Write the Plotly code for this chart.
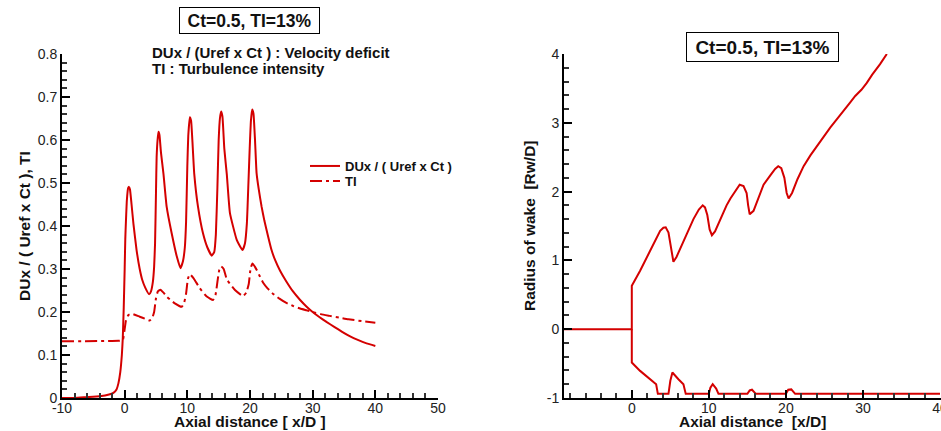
import plotly.graph_objects as go

# ---------------- data ----------------
# Left panel: velocity deficit DUx/(Uref x Ct) and turbulence intensity TI vs x/D
dux_x = [-10, -8, -6, -4, -2.5, -1.8, -1.3, -1.0, -0.7, -0.45, -0.3, -0.15, 0.0, 0.1, 0.2, 0.35, 0.55, 0.7, 0.85,
         1.1, 1.4, 1.9, 2.4, 2.8, 3.3, 3.9, 4.2, 4.5, 4.7, 4.85, 5.0, 5.1, 5.25, 5.4, 5.55, 5.8, 6.2, 6.7, 7.5,
         8.3, 8.9, 9.3, 9.6, 9.8, 10.0, 10.15, 10.4, 10.6, 10.8, 11.1, 11.7, 12.5, 13.2, 13.9, 14.3, 14.55,
         14.8, 15.0, 15.2, 15.4, 15.6, 15.9, 16.3, 16.8, 17.9, 18.8, 19.2, 19.5, 19.75, 19.95, 20.15, 20.35,
         20.55, 20.8, 21.05, 21.4, 21.85, 22.3, 22.9, 23.4, 24.0, 24.8, 25.8, 26.8, 28.0, 29.0, 30.0, 31.0,
         32.2, 33.5, 34.7, 35.9, 37.2, 38.6, 40.0]
dux_y = [0.000, 0.000, 0.002, 0.004, 0.008, 0.012, 0.020, 0.034, 0.060, 0.100, 0.140, 0.210, 0.300, 0.370,
         0.410, 0.460, 0.488, 0.491, 0.485, 0.450, 0.405, 0.344, 0.300, 0.275, 0.256, 0.241, 0.248, 0.270,
         0.305, 0.360, 0.480, 0.560, 0.600, 0.619, 0.612, 0.570, 0.520, 0.445, 0.383, 0.330, 0.302, 0.318,
         0.350, 0.410, 0.540, 0.610, 0.653, 0.645, 0.600, 0.522, 0.445, 0.383, 0.350, 0.331, 0.340, 0.380,
         0.490, 0.600, 0.650, 0.666, 0.655, 0.580, 0.520, 0.430, 0.367, 0.344, 0.360, 0.406, 0.500, 0.580,
         0.645, 0.671, 0.662, 0.600, 0.523, 0.485, 0.445, 0.412, 0.375, 0.346, 0.321, 0.296, 0.271, 0.249,
         0.228, 0.213, 0.200, 0.189, 0.177, 0.165, 0.154, 0.144, 0.135, 0.127, 0.121]

ti_x = [-10, -1.0, -0.3, 0.0, 0.2, 0.6, 1.1, 2.4, 3.3, 4.0, 4.4, 4.7, 5.0, 5.3, 5.7, 6.2, 6.7, 8.0, 9.1, 9.5,
        9.8, 10.1, 10.4, 10.8, 11.2, 12.0, 13.1, 14.1, 14.5, 14.8, 15.1, 15.4, 15.8, 16.3, 17.6, 18.9, 19.4,
        19.8, 20.1, 20.4, 20.8, 21.1, 21.6, 22.1, 22.8, 23.7, 24.7, 25.8, 26.9, 28.0, 29.0, 30.0, 31.3,
        32.7, 34.2, 35.7, 37.8, 40.0]
ti_y = [0.132, 0.133, 0.135, 0.160, 0.180, 0.193, 0.196, 0.189, 0.184, 0.180, 0.186, 0.200, 0.232, 0.248,
        0.252, 0.245, 0.236, 0.220, 0.212, 0.222, 0.243, 0.278, 0.288, 0.282, 0.274, 0.255, 0.236, 0.228,
        0.240, 0.270, 0.298, 0.306, 0.300, 0.276, 0.251, 0.237, 0.245, 0.265, 0.302, 0.313, 0.305, 0.297,
        0.282, 0.268, 0.255, 0.242, 0.231, 0.221, 0.214, 0.208, 0.204, 0.200, 0.195, 0.191, 0.187, 0.183,
        0.179, 0.175]

# Right panel: radius of wake (upper and lower edge) vs x/D
rw_up_x = [-8.8, 0.0, 0.0, 1.08, 2.38, 3.68, 4.1, 4.4, 4.76, 5.1, 5.4, 5.8, 6.27, 7.1, 8.0, 8.7, 9.2, 9.5, 9.8,
           10.1, 10.4, 10.8, 11.5, 12.3, 12.8, 13.5, 14.0, 14.5, 14.9, 15.1, 15.3, 15.8, 16.7, 17.1, 18.0,
           18.6, 19.0, 19.4, 19.8, 20.1, 20.35, 20.8, 21.5, 22.3, 23.2, 24.0, 24.8, 25.75, 26.6, 27.5, 28.3,
           29.0, 29.8, 30.5, 31.2, 32.2, 33.1]
rw_up_y = [0.0, 0.0, 0.63, 0.85, 1.14, 1.43, 1.475, 1.48, 1.405, 1.15, 0.98, 1.05, 1.163, 1.37, 1.60, 1.74,
           1.80, 1.77, 1.66, 1.45, 1.366, 1.42, 1.60, 1.80, 1.90, 2.02, 2.10, 2.08, 1.98, 1.80, 1.67, 1.72,
           1.99, 2.10, 2.24, 2.33, 2.37, 2.34, 2.20, 1.98, 1.90, 1.98, 2.18, 2.37, 2.53, 2.66, 2.78, 2.93,
           3.05, 3.17, 3.29, 3.39, 3.48, 3.58, 3.70, 3.85, 4.00]

rw_lo_x = [0.0, 0.0, 1.08, 2.38, 3.16, 3.38, 4.76, 5.0, 5.27, 6.05, 6.7, 7.0, 10.0, 10.2, 10.5, 10.95, 11.25,
           15.0, 15.3, 15.6, 15.9, 16.1, 20.0, 20.3, 20.7, 21.0, 21.2, 40.0]
rw_lo_y = [0.0, -0.484, -0.606, -0.727, -0.80, -0.94, -0.94, -0.75, -0.63, -0.727, -0.80, -0.94, -0.94,
           -0.85, -0.80, -0.862, -0.94, -0.94, -0.89, -0.88, -0.91, -0.94, -0.94, -0.88, -0.875, -0.91,
           -0.94, -0.94]

# tick labels
left_xticks = [-10, 0, 10, 20, 30, 40, 50]
left_xtext = ["-10", "0", "10", "20", "30", "40", "50"]
left_yticks = [0, 0.1, 0.2, 0.3, 0.4, 0.5, 0.6, 0.7, 0.8]
left_ytext = ["0", "0.1", "0.2", "0.3", "0.4", "0.5", "0.6", "0.7", "0.8"]
right_xticks = [0, 10, 20, 30, 40]
right_xtext = ["0", "10", "20", "30", "40"]
right_yticks = [-1, 0, 1, 2, 3, 4]
right_ytext = ["-1", "0", "1", "2", "3", "4"]

# ---------------- figure ----------------
W, H = 941, 431
RED = "rgb(212,0,0)"
FONT = "Liberation Sans, Arial, Helvetica, sans-serif"


def px_x(p):
    return p / W


def px_y(p):
    return 1 - p / H


fig = go.Figure()
fig.add_trace(go.Scatter(x=dux_x, y=dux_y, mode="lines", name="DUx / ( Uref x Ct )",
                         line=dict(color=RED, width=2, shape="spline", smoothing=0.4),
                         xaxis="x", yaxis="y", legend="legend"))
fig.add_trace(go.Scatter(x=ti_x, y=ti_y, mode="lines", name="TI",
                         line=dict(color=RED, width=2, dash="12px,4px,3px,4px", shape="spline",
                                   smoothing=0.4), xaxis="x", yaxis="y", legend="legend2"))
fig.add_trace(go.Scatter(x=rw_up_x, y=rw_up_y, mode="lines", showlegend=False,
                         line=dict(color=RED, width=2), xaxis="x2", yaxis="y2"))
fig.add_trace(go.Scatter(x=rw_lo_x, y=rw_lo_y, mode="lines", showlegend=False,
                         line=dict(color=RED, width=2), xaxis="x2", yaxis="y2"))

tickfont = dict(family=FONT, size=14, color="#222")
ydom = [px_y(398), px_y(54)]


def axis(dom, rng, tv, tt, mdt, anchor, standoff):
    return dict(domain=dom, range=rng, anchor=anchor, showgrid=False, zeroline=False,
                automargin=False, ticklabeloverflow="allow", ticklabelstandoff=standoff,
                showline=True, linecolor="black", linewidth=2, mirror=False,
                ticks="inside", ticklen=8, tickwidth=2, tickcolor="black",
                tickmode="array", tickvals=tv, ticktext=tt, tickfont=tickfont,
                minor=dict(ticks="inside", ticklen=5, tickwidth=1.5, tickcolor="#333",
                           tickmode="linear", tick0=0, dtick=mdt, showgrid=False))


legfont = dict(family=FONT, size=13, color="#111", weight="bold")
leg = lambda ypx: dict(x=px_x(305), y=px_y(ypx), xanchor="left", yanchor="middle",
                       bgcolor="rgba(0,0,0,0)", borderwidth=0, font=legfont)

fig.update_layout(
    template="none",
    width=W, height=H,
    margin=dict(l=0, r=0, t=0, b=0, pad=0, autoexpand=False),
    paper_bgcolor="white", plot_bgcolor="white",
    xaxis=axis([px_x(62), px_x(438)], [-10, 50], left_xticks, left_xtext, 2, "y", -4),
    yaxis=axis(ydom, [0, 0.8], left_yticks, left_ytext, 0.02, "x", 0),
    xaxis2=axis([px_x(564), 1.0], [-8.8, 40.13], right_xticks, right_xtext, 2, "y2", -4),
    yaxis2=axis(ydom, [-1, 4], right_yticks, right_ytext, 0.2, "x2", 0),
    showlegend=True,
    legend=leg(166),
    legend2=leg(181),
)

bold = lambda s: dict(family=FONT, size=s, color="#111", weight="bold")
annots = [
    dict(text="Ct=0.5, TI=13%", x=px_x(249.5), y=px_y(20.5), font=bold(17.5),
         bordercolor="black", borderwidth=1, borderpad=2, bgcolor="white", width=135, height=21),
    dict(text="Ct=0.5, TI=13%", x=px_x(762.5), y=px_y(47), font=bold(19),
         bordercolor="black", borderwidth=1, borderpad=2, bgcolor="white", width=147, height=24),
    dict(text="DUx / (Uref x Ct ) : Velocity deficit", x=px_x(150), y=px_y(52), xanchor="left",
         font=bold(15)),
    dict(text="TI : Turbulence intensity", x=px_x(150), y=px_y(68), xanchor="left", font=bold(15)),
    dict(text="Axial distance [ x/D ]", x=px_x(250), y=px_y(421.5), font=bold(15.5)),
    dict(text="Axial distance \u00a0[x/D]", x=px_x(752), y=px_y(421.5), font=bold(15.5)),
    dict(text="DUx / ( Uref x Ct ), TI", x=px_x(24), y=px_y(226), textangle=-90, font=bold(15.5)),
    dict(text="Radius of wake \u00a0[Rw/D]", x=px_x(529), y=px_y(226), textangle=-90, font=bold(15.5)),
]
for a in annots:
    a.update(xref="paper", yref="paper", showarrow=False)
    a.setdefault("xanchor", "center")
    a.setdefault("yanchor", "middle")
    fig.add_annotation(**a)

fig.write_html("out.html")
